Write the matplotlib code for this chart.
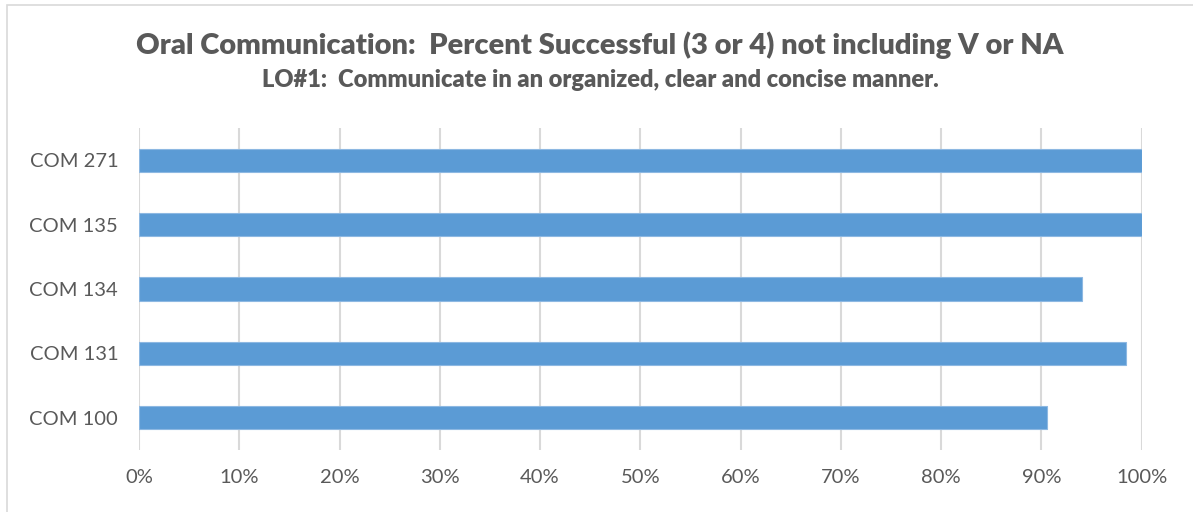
import matplotlib.pyplot as plt
from matplotlib.patches import Rectangle
from matplotlib.ticker import PercentFormatter

# course results, bottom to top
cursos = ['COM 100', 'COM 131', 'COM 134', 'COM 135', 'COM 271']
sucesso = [0.906, 0.984, 0.940, 1.0, 1.0]
ticks_x = [0, 0.1, 0.2, 0.3, 0.4, 0.5, 0.6, 0.7, 0.8, 0.9, 1.0]

titulo = 'Oral Communication:  Percent Successful (3 or 4) not including V or NA'
subtitulo = 'LO#1:  Communicate in an organized, clear and concise manner.'

plt.rcParams['font.family'] = ['Lato', 'DejaVu Sans']
cinza = '#595959'

fig = plt.figure(figsize=(11.93, 5.12), dpi=100)
ax = fig.add_axes([0.1165, 0.121, 0.8405, 0.629])

ax.barh(range(len(cursos)), sucesso, height=0.36, color='#5B9BD5',
        edgecolor='#8DB8E2', linewidth=0.8, zorder=3)

ax.set_xlim(0, 1.0)
ax.set_ylim(-0.5, len(cursos) - 0.5)
ax.set_xticks(ticks_x)
ax.xaxis.set_major_formatter(PercentFormatter(1.0, decimals=0))
ax.set_yticks(range(len(cursos)))
ax.set_yticklabels(cursos)
ax.grid(axis='x', color='#D9D9D9', linewidth=1.5, zorder=0)
ax.tick_params(axis='both', length=0, labelsize=14.5, colors=cinza)
ax.tick_params(axis='x', pad=14)
ax.tick_params(axis='y', pad=15)
for s in ax.spines.values():
    s.set_visible(False)

fig.text(0.503, 0.912, titulo, ha='center', va='center', fontsize=21,
         fontweight='heavy', color=cinza)
fig.text(0.503, 0.843, subtitulo, ha='center', va='center', fontsize=17,
         fontweight='heavy', color=cinza)

# light frame round the chart area
fig.patches.append(Rectangle((0.006, -0.01), 1.0, 1.0, transform=fig.transFigure,
                             fill=False, edgecolor='#D9D9D9', linewidth=1.2))

fig.savefig('out.png', dpi=100)
